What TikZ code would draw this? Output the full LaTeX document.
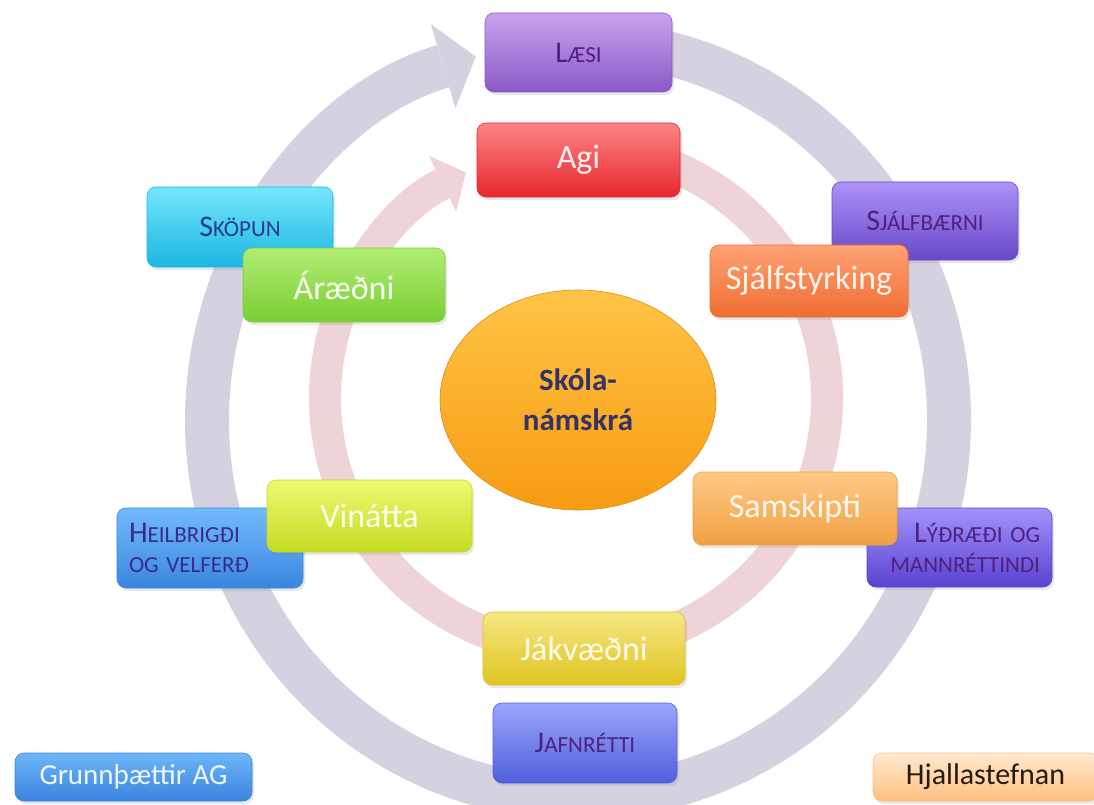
\documentclass[tikz,border=0pt]{standalone}
\usepackage{fontspec}
\setmainfont{Carlito}
\usepackage{tikz}
\usetikzlibrary{arrows.meta,shapes.geometric,shadows}

\definecolor{ringOuter}{HTML}{D6D1E1}
\definecolor{ringInner}{HTML}{EED3D7}
\definecolor{laesiTop}{HTML}{C9A2EE}  \definecolor{laesiBot}{HTML}{8A58C6}
\definecolor{agiTop}{HTML}{FF8484}    \definecolor{agiBot}{HTML}{E5272D}
\definecolor{skopunTop}{HTML}{74E6FB} \definecolor{skopunBot}{HTML}{1DB6E3}
\definecolor{araedTop}{HTML}{B2EC74}  \definecolor{araedBot}{HTML}{79CF33}
\definecolor{sjalfTop}{HTML}{AD93F7}  \definecolor{sjalfBot}{HTML}{6847C9}
\definecolor{styrkTop}{HTML}{FFA274}  \definecolor{styrkBot}{HTML}{EF6D33}
\definecolor{samskTop}{HTML}{FFC985}  \definecolor{samskBot}{HTML}{EFA043}
\definecolor{lydTop}{HTML}{A292FB}    \definecolor{lydBot}{HTML}{5A41D1}
\definecolor{vinTop}{HTML}{EEF872}    \definecolor{vinBot}{HTML}{C3DB22}
\definecolor{heilTop}{HTML}{72BAFB}   \definecolor{heilBot}{HTML}{3A86DF}
\definecolor{jakTop}{HTML}{F6E883}    \definecolor{jakBot}{HTML}{DFC322}
\definecolor{jafnTop}{HTML}{9AA6FB}   \definecolor{jafnBot}{HTML}{4F5FDB}
\definecolor{grunnTop}{HTML}{6DB6F8}  \definecolor{grunnBot}{HTML}{3A83DF}
\definecolor{hjalTop}{HTML}{FFEAD0}   \definecolor{hjalBot}{HTML}{FFBF80}
\definecolor{skolaTop}{HTML}{FFC446}  \definecolor{skolaBot}{HTML}{F79B12}
\definecolor{capPurple}{HTML}{51207F}
\definecolor{capBlue}{HTML}{263C88}
\definecolor{capIndigo}{HTML}{3A2A8E}

\begin{document}
\begin{tikzpicture}[x=1pt, y=-1pt,
    tile/.style 2 args={rectangle, rounded corners=9pt, inner sep=0pt,
        top color=#1, bottom color=#2, draw=#2, line width=0.6pt,
        drop shadow={opacity=0.18, shadow xshift=2pt, shadow yshift=-3pt}},
    wordtext/.style={font=\fontsize{34pt}{38pt}\selectfont, text=#1},
    capstext/.style={font=\fontsize{23pt}{30pt}\selectfont, text=#1}]
\useasboundingbox (0,0) rectangle (1094,805);
\clip (0,0) rectangle (1094,805);

% Small caps word: big first letter, small rest
\newcommand{\capword}[2]{{\fontsize{30pt}{30pt}\selectfont #1}{\fontsize{23pt}{30pt}\selectfont #2}}

% Outer ring (grunnthaettir) and inner ring (Hjallastefnan)
\draw[ringOuter, line width=44pt, -{Triangle[length=34pt, width=88pt, line width=0pt]}]
    (578,420) ++(-85:371 and 378) arc[start angle=-85, end angle=254, x radius=371, y radius=378];
\draw[ringInner, line width=32pt, -{Triangle[length=26pt, width=62pt, line width=0pt]}]
    (576,398) ++(-80:251) arc[start angle=-80, end angle=244, radius=251];

% Outer boxes
\node[tile={laesiTop}{laesiBot}, minimum width=187pt, minimum height=79pt, capstext=capPurple] (laesi) at (578.5,52.5) {\capword{L}{ÆSI}};
\node[tile={skopunTop}{skopunBot}, minimum width=186pt, minimum height=80pt, capstext=capBlue] (skopun) at (240,227) {\capword{S}{KÖPUN}};
\node[tile={sjalfTop}{sjalfBot}, minimum width=186pt, minimum height=78pt, capstext=capPurple] (sjalfbaerni) at (925,221) {\capword{S}{JÁLFBÆRNI}};
\node[tile={heilTop}{heilBot}, minimum height=80pt, inner xsep=12pt, text width=162pt, align=left, capstext=capIndigo] (heilbrigdi) at (210,548) {\capword{H}{EILBRIGÐI}\\OG VELFERÐ};
\node[tile={lydTop}{lydBot}, minimum height=79pt, inner xsep=12pt, text width=161pt, align=right, capstext=capPurple] (lydraedi) at (959.5,547.5) {\capword{L}{ÝÐRÆÐI OG}\\MANNRÉTTINDI};
\node[tile={jafnTop}{jafnBot}, minimum width=184pt, minimum height=80pt, capstext=capPurple] (jafnretti) at (585,743) {\capword{J}{AFNRÉTTI}};

% Inner boxes
\node[tile={agiTop}{agiBot}, minimum width=203pt, minimum height=74pt, wordtext=agiTop!12!white] (agi) at (578.5,160) {Agi};
\node[tile={araedTop}{araedBot}, minimum width=202pt, minimum height=74pt, wordtext=araedTop!10!white] (araedni) at (344,285) {Áræðni};
\node[tile={styrkTop}{styrkBot}, minimum width=198pt, minimum height=72pt, wordtext=styrkTop!12!white] (sjalfstyrking) at (809,281) {Sjálfstyrking};
\node[tile={vinTop}{vinBot}, minimum width=205pt, minimum height=72pt, wordtext=vinTop!12!white] (vinatta) at (369.5,516) {Vinátta};
\node[tile={samskTop}{samskBot}, minimum width=204pt, minimum height=73pt, wordtext=samskTop!15!white] (samskipti) at (795,508.5) {Samskipti};
\node[tile={jakTop}{jakBot}, minimum width=202pt, minimum height=73pt, wordtext=jakTop!15!white] (jakvaedni) at (584,648.5) {Jákvæðni};

% Centre
\node[ellipse, inner sep=0pt, minimum width=276pt, minimum height=220pt,
    top color=skolaTop, bottom color=skolaBot, draw=skolaBot!90!black, line width=0.6pt,
    align=center, font=\bfseries\fontsize{31pt}{40pt}\selectfont, text=black!75!blue!80!white]
    (skolanamskra) at (578,400) {Skóla-\\námskrá};

% Legend
\node[tile={grunnTop}{grunnBot}, minimum width=237pt, minimum height=48pt,
    font=\fontsize{29pt}{30pt}\selectfont, text=grunnTop!10!white] (grunn) at (133.5,777) {Grunnþættir AG};
\node[tile={hjalTop}{hjalBot}, minimum width=225pt, minimum height=48pt,
    font=\fontsize{30pt}{30pt}\selectfont, text=black!80!brown] (hjalla) at (985.5,777) {Hjallastefnan};
\end{tikzpicture}
\end{document}
